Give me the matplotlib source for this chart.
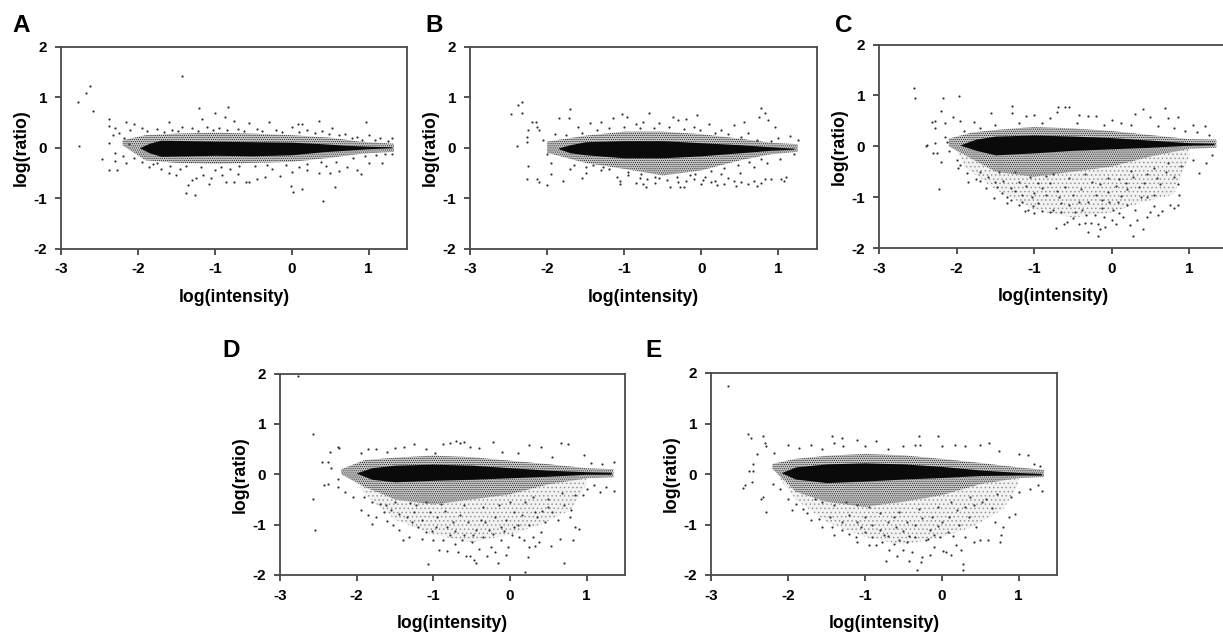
import matplotlib
matplotlib.use('Agg')
import matplotlib.pyplot as plt

plt.rcParams['font.family'] = ['Liberation Sans', 'DejaVu Sans']
plt.rcParams['font.weight'] = 'bold'
plt.rcParams['axes.unicode_minus'] = False
plt.rcParams['hatch.linewidth'] = 0.5

W, H = 1223, 634

x_ticks = [-3, -2, -1, 0, 1]
y_ticks = [-2, -1, 0, 1, 2]

# stray points
a_points = [(-2.78,.91),(-2.68,1.09),(-2.62,1.23),(-2.58,.73),(-2.77,.03),(-1.43,1.43),(-2.47,-.22),(-2.38,.58),(-2.38,-.44),
    (-2.27,-.44),(-2.37,.43),(-2.3,.4),(-2.15,.52),(-2.05,.48),(-1.2,.78),(-.83,.8),(-1.0,.69),(-.87,.62),(-.75,.53),(.97,.52),
    (.35,.53),(-.3,.52),(-.55,.5),(.08,.48),(.13,.47),(-1.6,.52),(-1.17,.58),(-1.42,.42),(-2.32,.26),(-2.25,.3),(-2.38,.1),(-2.3,-.1),
    (-2.3,-.27),(-2.2,-.16),(-2.15,-.3),(-2.1,.35),(-1.95,.4),(-1.75,.38),(-1.55,.36),(-1.3,.4),(-1.1,.42),(-.95,.4),(-.7,.38),(-.45,.38),
    (-.2,.36),(.0,.42),(.2,.36),(.4,.33),(.52,.4),(.7,.28),(.85,.22),(1.0,.25),(1.15,.2),(1.3,.2),(1.25,.14),(-1.85,-.38),(-1.7,-.42),
    (.41,-1.05),(-1.26,-.94),(-1.38,-.89),(-1.08,-.72),(-1.35,-.73),(.56,-.77),(.13,-.81),(.02,-.87),(-.01,-.75),(-.75,-.68),(-.6,-.68),
    (-.55,-.68),(-.85,-.68),(-1.3,-.65),(-1.25,-.6),(-.45,-.62),(.9,-.52),(.85,-.45),(.5,-.5),(-1.5,-.55),(-1.6,-.5),(-.9,-.55),(-1.15,-.55),
    (-1.05,-.6),(-.7,-.52),(-.35,-.58),(-.15,-.56),(.0,-.48),(.2,-.45),(.35,-.5),(.62,-.47),(.72,-.38),(1.0,-.3),(1.18,-.3),(1.3,-.13),
    (-1.75,-.3),(-1.45,-.42),(-1.0,-.45),(-.8,-.42),(-.25,-.42),(.1,-.38),(.45,-.36),(-1.95,-.28),(-2.05,-.2),(-2.12,.08),(-2.18,.2),
    (-1.88,.33),(-1.66,.31),(-1.48,.33),(-1.22,.34),(-1.02,.36),(-.84,.35),(-.62,.33),(-.38,.34),(-.12,.31),(.1,.32),(.3,.29),(.48,.28),(.62,.25),
    (.78,.2),(.92,.16),(1.08,.15),(-1.8,-.33),(-1.58,-.36),(-1.38,-.37),(-1.18,-.38),(-.92,-.38),(-.68,-.36),(-.48,-.37),(-.32,-.34),(-.08,-.35),
    (.2,-.32),(.38,-.28),(.58,-.28),(.8,-.2),(.95,-.17),(1.1,-.15),(1.22,-.12)]
b_points = [(-2.33,.9),(-2.38,.84),(-2.47,.67),(-2.32,.68),(-1.7,.77),(-1.03,.67),(-.97,.62),(-.68,.68),(-.37,.62),(-.05,.65),(.78,.78),
    (.82,.68),(.75,.62),(.87,.55),(.55,.52),(-2.2,.52),(-2.15,.52),(-2.13,.42),(-2.1,.35),(-2.25,.35),(-2.26,.22),(-2.39,.03),(-2.26,.12),
    (-2.25,-.36),(-2.26,-.62),(-2.13,-.62),(-2.1,-.68),(-2.0,-.73),(-1.8,-.66),(-1.55,-.6),(-1.95,-.52),(-1.9,.28),(-1.85,.6),(-1.72,.6),
    (-1.6,.42),(-1.45,.5),(-1.3,.52),(-1.15,.6),(-.85,.48),(-.75,.52),(-.55,.5),(-.3,.56),(-.2,.58),(-.1,.42),(.1,.48),(.25,.36),(.42,.46),
    (.6,.3),(.95,.42),(1.0,.2),(1.15,.24),(1.25,.16),(-2.05,.15),(-2.0,-.12),(-1.95,-.3),(-1.7,-.42),(-1.5,-.5),(-1.3,-.45),(-1.1,-.58),
    (-1.05,-.66),(-1.05,-.72),(-.85,-.7),(-.75,-.72),(-.72,-.78),(-.6,-.7),(-.45,-.65),(-.4,-.78),(-.3,-.68),(-.28,-.78),(-.22,-.78),
    (-.2,-.66),(-.1,-.62),(.0,-.72),(.02,-.64),(.12,-.68),(.18,-.66),(.2,-.74),(.3,-.72),(.35,-.6),(.42,-.66),(.45,-.76),(.52,-.68),(.6,-.72),
    (.68,-.66),(.72,-.76),(.78,-.7),(.83,-.62),(.9,-.62),(1.03,-.62),(1.07,-.66),(1.1,-.58),(-.95,-.55),(-.8,-.6),(-.55,-.6),(-.15,-.55),
    (.25,-.52),(.5,-.5),(.68,-.38),(.85,-.3),(1.02,-.22),(1.2,-.12),(-1.2,-.42),(-1.4,-.35),(-.7,-.62),(.05,-.58),
    (-1.75,.25),(-1.55,.3),(-1.35,.36),(-1.2,.4),(-1.0,.42),(-.8,.4),(-.62,.4),(-.42,.42),(-.22,.38),(-.02,.36),(.18,.3),(.35,.27),(.52,.22),
    (.72,.16),(.9,.13),(-1.65,-.34),(-1.5,-.38),(-1.28,-.38),(-.95,-.48),(-.78,-.52),(-.6,-.58),(-.32,-.58),(-.08,-.52),(.12,-.46),(.3,-.4),
    (.48,-.35),(.62,-.28),(.78,-.22)]
c_points = [(-2.55,1.15),(-2.53,.95),(-2.18,.95),(-1.97,.98),(-1.28,.8),(-.69,.77),(-.6,.78),(-.55,.78),(.4,.73),(.69,.76),(-2.2,.7),
    (-2.32,.47),(-2.28,.5),(-2.28,.35),(-2.15,.45),(-2.05,.58),(-1.95,.5),(-1.78,.48),(-1.55,.65),(-1.28,.65),(-1.1,.6),(-1.0,.62),(-.8,.55),
    (-.7,.68),(-.42,.62),(-.3,.6),(-.2,.6),(.0,.52),(.12,.45),(.3,.63),(.5,.58),(.72,.55),(.86,.57),(1.05,.42),(1.2,.4),(-2.38,.02),(-2.4,.01),
    (-2.28,.07),(-2.3,-.13),(-2.25,-.13),(-2.2,-.31),(-2.23,-.85),(-2.1,-.1),(-2.0,-.28),(-1.98,-.42),(-1.95,-.36),(-1.87,-.52),(-1.85,-.7),
    (-1.75,-.65),(-1.7,-.68),(-1.62,-.82),(-1.52,-1.02),(-1.48,-.8),(-1.42,-.92),(-1.35,-1.0),(-1.3,-1.05),(-1.25,-.88),(-1.2,-1.15),(-1.15,-1.1),
    (-1.12,-1.27),(-1.08,-1.25),(-1.03,-1.0),(-1.0,-1.32),(-.95,-1.12),(-.9,-1.28),(-.85,-.95),(-.8,-1.3),(-.75,-1.25),(-.72,-1.6),(-.68,-1.0),
    (-.65,-1.3),(-.62,-1.52),(-.58,-1.48),(-.55,-1.15),(-.5,-1.42),(-.47,-1.3),(-.42,-1.53),(-.38,-1.25),(-.35,-1.5),(-.3,-1.68),(-.27,-1.5),
    (-.22,-1.35),(-.18,-1.52),(-.17,-1.77),(-.15,-1.62),(-.1,-1.4),(-.08,-1.58),(-.03,-1.1),(.0,-1.45),(.02,-1.25),(.05,-1.52),(.1,-1.32),
    (.15,-1.4),(.2,-1.15),(.23,-1.55),(.27,-1.76),(.3,-1.25),(.33,-1.45),(.38,-1.0),(.4,-1.62),(.45,-1.4),(.5,-1.3),(.55,-1.18),(.6,-1.35),
    (.65,-1.28),(.75,-1.15),(.8,-1.22),(.85,-1.15),(.87,-.95),(.85,-.75),(.8,-.6),(.7,-.5),(.62,-.75),(.55,-.95),(.45,-1.0),(.35,-.8),
    (.28,-.6),(.2,-.85),(.12,-.98),(.05,-.78),(-.05,-.9),(-.12,-1.05),(-.2,-.95),(-.3,-1.1),(-.4,-.85),(-.5,-.95),(-.6,-.8),(-.7,-.88),
    (-.8,-.72),(-.9,-.82),(-1.0,-.92),(-1.1,-.78),(-1.2,-.7),(-1.3,-.82),(-1.4,-.68),(-1.5,-.7),(-1.6,-.6),(-1.7,-.5),(-1.05,-.6),(-.85,-.58),
    (-.55,-.62),(-.25,-.7),(-.15,-.75),(.1,-.65),(.25,-.48),(.45,-.55),(.55,-.42),(.72,-.32),(.9,-.38),(1.05,-.28),(1.12,-.52),(1.22,-.33),
    (1.3,-.18),(1.25,.22),(1.1,.28),(.95,.3),(.8,.35),(.6,.4),(.25,.42),(-.1,.42),(-.45,.45),(-.9,.45),(-1.2,.45),(-1.5,.42),(-1.7,.35),
    (-1.9,.3),(-2.15,.18),(-2.12,.08),(-1.35,-1.12),(-1.02,-1.18),(-.95,-.72),(-.65,-1.12),(-.42,-1.1),(-.33,-1.35),(-.12,-1.22),(.08,-1.1),
    (.18,-.72),(.42,-.72),(.58,-.62),(-1.15,-.95),(-1.25,-.5),(-1.45,-.5),(-.75,-.55),(-.35,-.55),(-.05,-.62)]
d_points = [(-2.77,1.95),(-2.57,.8),(-2.57,-.5),(-2.55,-1.1),(-2.25,.55),(-2.23,.52),(-2.35,.45),(-2.45,.24),(-2.38,.24),(-2.42,-.22),
    (-2.38,-.2),(-2.33,.12),(-2.25,-.1),(-2.25,-.25),(-2.15,-.35),(-2.05,-.45),(-1.95,.42),(-1.85,.5),(-1.75,.5),(-1.6,.45),(-1.5,.52),(-1.38,.55),
    (-1.25,.6),(-1.1,.5),(-.98,.42),(-.88,.6),(-.78,.62),(-.7,.66),(-.65,.63),(-.6,.65),(-.52,.55),(-.4,.52),(-.22,.64),(-.1,.45),(.1,.42),(.25,.58),
    (.4,.55),(.55,.35),(.67,.63),(.75,.6),(.97,.38),(1.05,.22),(1.2,.2),(1.35,.25),(1.35,-.33),(1.25,-.25),(1.18,-.35),(1.0,-.3),(.95,-.42),
    (-1.95,-.7),(-1.85,-.8),(-1.8,-.98),(-1.75,-.85),(-1.65,-.75),(-1.6,-.92),(-1.52,-1.0),(-1.45,-1.1),(-1.4,-1.3),(-1.32,-1.25),(-1.28,-.95),
    (-1.2,-1.05),(-1.15,-1.28),(-1.1,-1.15),(-1.07,-1.78),(-1.0,-1.3),(-.97,-1.05),(-.92,-1.5),(-.88,-1.3),(-.82,-1.52),(-.78,-1.2),(-.72,-1.38),
    (-.68,-1.55),(-.62,-1.3),(-.58,-1.63),(-.52,-1.62),(-.5,-1.35),(-.47,-1.7),(-.44,-1.77),(-.4,-1.48),(-.35,-1.25),(-.3,-1.62),(-.25,-1.45),
    (-.2,-1.55),(-.16,-1.77),(-.12,-1.3),(-.05,-1.6),(-.03,-1.45),(.02,-1.2),(.05,-1.05),(.12,-1.25),(.18,-1.3),(.2,-1.95),(.23,-1.65),(.25,-1.45),
    (.3,-1.25),(.33,-1.42),(.38,-1.35),(.4,-1.15),(.45,-.95),(.53,-1.42),(.65,-1.28),(.7,-1.77),(.78,-.85),(.82,-1.3),(.85,-1.05),(.9,-1.08),
    (.8,-.7),(.7,-.62),(.62,-.9),(.55,-.75),(.42,-.72),(.35,-.85),(.25,-1.0),(.15,-.8),(.05,-.75),(-.05,-.9),(-.12,-1.05),(-.2,-.85),(-.28,-1.1),
    (-.38,-.9),(-.45,-1.1),(-.55,-.95),(-.65,-.8),(-.75,-.95),(-.85,-.72),(-.95,-.85),(-1.05,-.75),(-1.15,-.9),(-1.25,-.75),(-1.35,-.85),
    (-1.45,-.78),(-1.55,-.7),(-1.7,-.6),(-1.8,-.55),(-1.9,-.45),(-1.1,-.55),(-.9,-.6),(-.6,-.62),(-.35,-.65),(-.15,-.62),(.0,-.55),(.2,-.55),
    (.3,-.45),(.5,-.5),(.68,-.38),(.85,-.42),(1.1,-.22),(-1.3,-.58),(-1.5,-.55),(-.72,-1.12),(-.48,-1.2),(-.22,-1.18),(-.08,-1.12),(-.82,-1.05),
    (-1.02,-1.12),(-.6,-1.2),(-.32,-.95),(.1,-1.0),(.32,-.75),(.5,-.65),(-1.22,-.62),(-1.62,-.62)]
e_points = [(-2.78,1.75),(-2.52,.8),(-2.48,.72),(-2.32,.76),(-2.3,.62),(-2.28,.55),(-2.18,.42),(-2.4,.4),(-2.45,.2),(-2.5,.05),(-2.45,.05),
    (-2.58,-.28),(-2.56,-.22),(-2.47,-.15),(-2.35,-.5),(-2.32,-.45),(-2.28,-.76),(-2.2,-.2),(-2.1,-.3),(-2.0,-.5),(-1.95,-.72),(-1.9,-.6),
    (-2.0,.58),(-1.85,.52),(-1.7,.58),(-1.55,.5),(-1.42,.76),(-1.4,.62),(-1.3,.72),(-1.28,.55),(-1.1,.67),(-1.0,.55),(-.85,.65),(-.7,.5),(-.5,.55),
    (-.35,.58),(-.3,.75),(-.28,.58),(-.05,.75),(.0,.55),(.17,.58),(.3,.55),(.5,.58),(.62,.62),(.75,.45),(1.0,.4),(1.12,.38),(1.2,.2),(1.28,.15),
    (1.3,-.33),(1.25,-.22),(1.15,-.3),(1.0,-.35),(.95,-.8),(.88,-.85),(.8,-1.05),(.77,-1.2),(.76,-1.35),(.7,-.95),(.65,-.68),(.6,-1.3),(.5,-1.3),
    (.45,-1.05),(.42,-1.35),(.35,-.85),(.3,-1.25),(.28,-1.9),(.28,-1.78),(.25,-1.5),(.18,-1.4),(.15,-1.22),(.12,-1.6),(.05,-1.55),(.02,-1.52),
    (-.02,-1.25),(-.05,-1.02),(-.1,-1.45),(-.15,-1.1),(-.15,-1.6),(-.2,-1.3),(-.25,-1.65),(-.27,-1.75),(-.32,-1.9),(-.35,-1.25),(-.38,-1.55),
    (-.42,-1.72),(-.45,-1.35),(-.5,-1.5),(-.55,-1.3),(-.58,-1.62),(-.62,-1.38),(-.68,-1.5),(-.72,-1.72),(-.75,-1.2),(-.78,-1.35),(-.85,-1.4),
    (-.95,-1.4),(-1.0,-1.15),(-1.1,-1.35),(-1.12,-1.25),(-1.2,-1.18),(-1.3,-1.1),(-1.4,-1.2),(-1.42,-1.05),(-1.55,-1.05),(-1.6,-.9),(-1.7,-.92),
    (-1.75,-.78),(-1.8,-.7),(-1.45,-.85),(-1.3,-.95),(-1.2,-.82),(-1.1,-.95),(-1.0,-.85),(-.9,-1.0),(-.8,-1.1),(-.7,-.95),(-.6,-1.05),(-.5,-1.12),
    (-.45,-.95),(-.35,-1.0),(-.25,-.88),(-.12,-.85),(0,-.95),(.1,-.85),(.2,-.72),(.3,-.65),(.42,-.62),(.52,-.55),(.58,-.5),(.72,-.4),(.9,-.45),
    (-.62,-.85),(-.8,-.78),(-.95,-.65),(-1.1,-.62),(-1.25,-.55),(-1.4,-.62),(-1.55,-.55),(-1.65,-.5),(-.55,-.75),(-.3,-.7),(-.05,-.65),(.12,-.55),
    (.22,-1.0),(.37,-.45),(-.42,-1.22),(-.7,-1.22),(-.9,-1.25),(-1.05,-1.05),(-.18,-1.28),(-.1,-1.2),(.08,-1.15)]

# outline of the solid black band and of the speckled zones, read as x / upper / lower
a_core = ([-1.98,-1.85,-1.7,-1.0,-.5,0,.4,.7,1.0,1.3], [0,.09,.15,.13,.12,.11,.08,.05,.03,.02], [0,-.1,-.17,-.15,-.16,-.14,-.08,-.05,-.02,0])
a_halo = ([-2.2,-1.9,-1.5,-1,-.5,0,.5,.9,1.33], [.15,.25,.28,.3,.28,.25,.2,.12,.08], [.05,-.25,-.3,-.32,-.3,-.28,-.2,-.12,-.08])
b_core = ([-1.85,-1.7,-1.5,-1,-.5,0,.5,.9,1.2], [0,.06,.12,.14,.14,.1,.06,.02,-.01], [-.02,-.1,-.14,-.2,-.2,-.16,-.1,-.05,-.03])
b_halo = ([-2,-1.5,-1,-.5,0,.5,.9,1.25], [.12,.24,.32,.32,.27,.18,.1,.07], [-.1,-.3,-.42,-.55,-.45,-.25,-.13,-.08])
c_core = ([-1.95,-1.75,-1.5,-1,-.5,0,.5,1,1.32], [.03,.14,.2,.22,.2,.17,.12,.07,.06], [.02,-.08,-.17,-.13,-.08,-.05,-.02,.02,.03])
c_halo = ([-2.1,-1.8,-1.5,-1,-.5,0,.5,1,1.35], [.15,.27,.32,.38,.35,.3,.22,.14,.13], [.0,-.25,-.5,-.6,-.5,-.4,-.2,-.05,-.03])
c_cloud = ([-2.0,-1.9,-1.5,-1,-.5,0,.4,.8,1.0], [.0,.0,.0,.0,.0,.0,.0,.0,.0], [-.1,-.4,-.85,-1.25,-1.4,-1.3,-1.1,-.95,-.2])
d_core = ([-2.0,-1.8,-1.5,-1,-.5,0,.5,1,1.32], [.03,.13,.18,.2,.18,.13,.08,.05,.04], [.02,-.1,-.15,-.12,-.1,-.07,-.04,0,.0])
d_halo = ([-2.2,-1.9,-1.5,-1,-.5,0,.5,1,1.35], [.1,.28,.33,.37,.34,.27,.2,.12,.1], [.0,-.25,-.5,-.6,-.5,-.4,-.2,-.08,-.06])
d_cloud = ([-2.0,-1.9,-1.5,-1,-.5,0,.4,.8,1.0], [.0,.0,.0,.0,.0,.0,.0,.0,.0], [-.1,-.4,-.9,-1.2,-1.35,-1.2,-1.0,-.7,-.2])
e_core = ([-2.08,-1.9,-1.5,-1,-.5,0,.5,1,1.3], [.03,.14,.2,.22,.2,.15,.08,.03,.01], [.02,-.1,-.17,-.14,-.1,-.07,-.03,-.02,-.02])
e_halo = ([-2.2,-1.9,-1.5,-1,-.5,0,.5,1,1.33], [.2,.3,.36,.4,.37,.3,.22,.13,.08], [.1,-.35,-.55,-.65,-.55,-.42,-.2,-.08,-.06])
e_cloud = ([-2.1,-1.9,-1.5,-1,-.5,0,.4,.8,1.0], [.0,.0,.0,.0,.0,.0,.0,.0,.0], [-.1,-.5,-.95,-1.25,-1.4,-1.25,-1.05,-.7,-.2])

panels = [
    ('A', (61, 47, 407, 248.5), (12, 32), a_points, a_core, a_halo, None),
    ('B', (470, 47, 817, 248.5), (425, 32), b_points, b_core, b_halo, None),
    ('C', (879, 44.5, 1228, 248), (835, 32), c_points, c_core, c_halo, c_cloud),
    ('D', (280, 373.5, 625, 575), (222, 357), d_points, d_core, d_halo, d_cloud),
    ('E', (711, 373, 1057, 575), (645, 357), e_points, e_core, e_halo, e_cloud),
]

fig = plt.figure(figsize=(W / 100, H / 100), dpi=100)

for name, box, letter, pts, core, halo, cloud in panels:
    left, top, right, bottom = box
    ax = fig.add_axes([left / W, 1 - bottom / H, (right - left) / W, (bottom - top) / H])
    # stippled zones, the dots are too many to read one by one
    if cloud:
        ax.fill_between(cloud[0], cloud[1], cloud[2], facecolor='#f2f2f2', edgecolor='#8c8c8c', hatch='....', lw=0)
    ax.fill_between(halo[0], halo[1], halo[2], facecolor='#c8c8c8', edgecolor='#222222', hatch='........', lw=0)
    ax.fill_between(core[0], core[1], core[2], color='#0a0a0a', lw=0)
    ax.scatter([p[0] for p in pts], [p[1] for p in pts], s=2.5, c='#333333', linewidths=0)
    ax.set_xlim(-3, 1.5)
    ax.set_ylim(-2, 2)
    ax.set_xticks(x_ticks)
    ax.set_yticks(y_ticks)
    ax.tick_params(length=4, width=1.3, color='#444444', labelsize=11, pad=6)
    for s in ax.spines.values():
        s.set_linewidth(1.3)
        s.set_color('#4a4a4a')
    ax.set_xlabel('log(intensity)', fontsize=12.7, fontweight='bold', labelpad=9)
    ax.set_ylabel('log(ratio)', fontsize=12.7, fontweight='bold', labelpad=4)
    ax.yaxis.set_label_coords(-31 / (right - left), 0.5)
    fig.text(letter[0] / W, 1 - letter[1] / H, name, fontsize=17.5, fontweight='bold', ha='left', va='baseline')

fig.savefig('out.png', dpi=100)
